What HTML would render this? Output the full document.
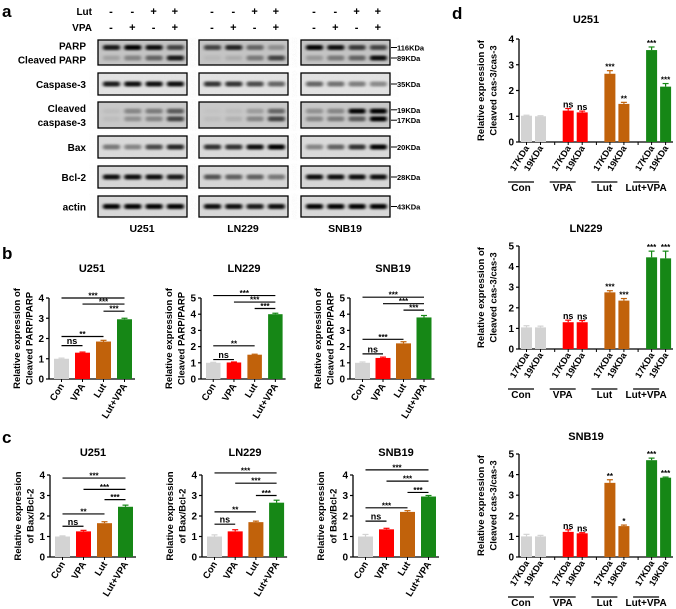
<!DOCTYPE html>
<html><head><meta charset="utf-8"><style>
body{margin:0;background:#fff}
svg{display:block;font-family:"Liberation Sans",Arial,sans-serif;font-weight:bold}
</style></head><body>
<svg id="fig" width="676" height="609" viewBox="0 0 676 609">
<defs>
<filter id="blur" x="-20%" y="-100%" width="140%" height="300%"><feGaussianBlur stdDeviation="1.6 1.1"/></filter>
<filter id="noise"><feTurbulence baseFrequency="0.9" numOctaves="1" seed="3"/><feColorMatrix values="0 0 0 0 0.5 0 0 0 0 0.5 0 0 0 0 0.5 0 0 0 0.12 0"/></filter>
</defs>
</svg>
<script>
const NS='http://www.w3.org/2000/svg';
const svg=document.getElementById('fig');
function mk(tag,attrs,parent,txt){const e=document.createElementNS(NS,tag);for(const k in attrs)e.setAttribute(k,attrs[k]);if(txt!==undefined)e.textContent=txt;(parent||svg).appendChild(e);return e;}

// ---------- Panel a: western blot data ----------
const cellLines=['U251','LN229','SNB19'];
const lutSigns=['-','-','+','+'];
const vpaSigns=['-','+','-','+'];
const parpBand=[[0.8,0.95,0.85,0.6],[0.6,0.75,0.45,0.25],[0.9,0.85,0.65,0.6]];
const cparpBand=[[0.15,0.3,0.45,0.8],[0.05,0.1,0.35,0.6],[0.2,0.35,0.45,0.85]];
const casBand=[[0.8,0.85,0.85,0.85],[0.7,0.7,0.6,0.5],[0.5,0.45,0.4,0.35]];
const c19Band=[[0.05,0.3,0.35,0.5],[0.02,0.05,0.2,0.45],[0.25,0.3,0.9,1]];
const c17Band=[[0.05,0.25,0.3,0.6],[0.05,0.1,0.3,0.6],[0.3,0.35,0.5,1]];
const baxBand=[[0.4,0.35,0.6,0.75],[0.7,0.7,0.85,1],[0.35,0.5,0.7,0.9]];
const bclBand=[[0.85,0.85,0.85,0.8],[0.55,0.5,0.5,0.4],[0.85,0.85,0.85,0.85]];
const actinBand=[[0.9,0.9,0.9,0.9],[0.85,0.85,0.8,0.85],[0.9,0.9,0.9,0.9]];
const blotX=[98,199,301];
const rows=[
 {label:['PARP','Cleaved PARP'],y:40,h:25,bands:[[parpBand,0.3],[cparpBand,0.72]],kda:[['116KDa',0.3],['89KDa',0.72]],bg:'#c4c4c4'},
 {label:['Caspase-3'],y:73,h:22,bands:[[casBand,0.5]],kda:[['35KDa',0.5]],bg:'#e2e2e2'},
 {label:['Cleaved','caspase-3'],y:102,h:26,bands:[[c19Band,0.35],[c17Band,0.65]],kda:[['19KDa',0.3],['17KDa',0.7]],bg:'#c8c8c8'},
 {label:['Bax'],y:136,h:22,bands:[[baxBand,0.5]],kda:[['20KDa',0.5]],bg:'#dadada'},
 {label:['Bcl-2'],y:166,h:22,bands:[[bclBand,0.5]],kda:[['28KDa',0.5]],bg:'#d6d6d6'},
 {label:['actin'],y:196,h:21,bands:[[actinBand,0.5]],kda:[['43KDa',0.5]],bg:'#d8d8d8'}];
mk('text',{x:2,y:17,'font-size':17,},svg,'a');
mk('text',{x:92,y:15,'font-size':10,'text-anchor':'end',},svg,'Lut');
mk('text',{x:92,y:31,'font-size':10,'text-anchor':'end',},svg,'VPA');
blotX.forEach((bx,ci)=>{
  for(let l=0;l<4;l++){
    const lx=bx+13+l*21.3;
    mk('text',{x:lx,y:15,'font-size':11,'text-anchor':'middle',},svg,lutSigns[l]);
    mk('text',{x:lx,y:31,'font-size':11,'text-anchor':'middle',},svg,vpaSigns[l]);
  }
  mk('text',{x:bx+44,y:232,'font-size':10.5,'text-anchor':'middle',},svg,cellLines[ci]);
});
rows.forEach(r=>{
  const ly=r.y+r.h/2;
  if(r.label.length===1) mk('text',{x:86,y:ly+4,'font-size':10,'text-anchor':'end',},svg,r.label[0]);
  else{mk('text',{x:86,y:ly-3,'font-size':10,'text-anchor':'end',},svg,r.label[0]);
       mk('text',{x:86,y:ly+11,'font-size':10,'text-anchor':'end',},svg,r.label[1]);}
  blotX.forEach((bx,ci)=>{
    const g=mk('g',{});
    mk('rect',{x:bx,y:r.y,width:89,height:r.h,fill:r.bg},g);
    mk('rect',{x:bx,y:r.y,width:89,height:r.h,filter:'url(#noise)'},g);
    r.bands.forEach(([arr,fy])=>{
      for(let l=0;l<4;l++){
        const v=arr[ci][l];
        mk('rect',{x:bx+5+l*21.3,y:r.y+r.h*fy-2.5,width:17,height:5,rx:2,fill:'#000','fill-opacity':Math.min(1,v*1.1),filter:'url(#blur)',},g);
      }
    });
    mk('rect',{x:bx,y:r.y,width:89,height:r.h,fill:'none',stroke:'#000','stroke-width':1.3},g);
  });
  r.kda.forEach(([t,fy])=>{
    const yy=r.y+r.h*fy;
    mk('line',{x1:391,x2:397,y1:yy,y2:yy,stroke:'#000','stroke-width':1});
    mk('text',{x:397,y:yy+3,'font-size':7.5,},svg,t);
  });
});

// ---------- Panels b & c: bar charts ----------
const groups=['Con','VPA','Lut','Lut+VPA'];
const colors=['#d3d3d3','#ff0000','#c1620b','#168716'];
const parpU251=[1.0,1.3,1.85,2.95], parpU251Err=[0.03,0.03,0.06,0.05];
const parpLN229=[1.0,1.02,1.5,4.0], parpLN229Err=[0.03,0.03,0.03,0.06];
const parpSNB19=[1.0,1.3,2.2,3.8], parpSNB19Err=[0.05,0.05,0.1,0.12];
const baxU251=[1.0,1.25,1.65,2.45], baxU251Err=[0.03,0.05,0.07,0.08];
const baxLN229=[1.0,1.25,1.7,2.65], baxLN229Err=[0.08,0.08,0.05,0.12];
const baxSNB19=[1.0,1.35,2.2,2.95], baxSNB19Err=[0.1,0.05,0.06,0.05];
const bracketsParpU251=[[0,3,4.0,'***'],[1,3,3.7,'***'],[2,3,3.35,'***'],[0,2,2.1,'**'],[0,1,1.65,'ns']];
const bracketsParpLN229=[[0,3,5.15,'***'],[1,3,4.75,'***'],[2,3,4.35,'***'],[0,2,2.05,'**'],[0,1,1.2,'ns']];
const bracketsParpSNB19=[[0,3,5.05,'***'],[1,3,4.65,'***'],[2,3,4.25,'***'],[0,2,2.45,'***'],[0,1,1.55,'ns']];
const bracketsBaxU251=[[0,3,3.85,'***'],[1,3,3.3,'***'],[2,3,2.8,'***'],[0,2,2.1,'**'],[0,1,1.5,'ns']];
const bracketsBaxLN229=[[0,3,4.1,'***'],[1,3,3.6,'***'],[2,3,3.0,'***'],[0,2,2.2,'**'],[0,1,1.6,'ns']];
const bracketsBaxSNB19=[[0,3,4.25,'***'],[1,3,3.7,'***'],[2,3,3.15,'***'],[0,2,2.4,'***'],[0,1,1.75,'ns']];

function barChart(o){
  const g=mk('g',{});
  const unit=(o.base-o.top)/o.max;
  const yS=v=>o.base-v*unit;
  const xS=i=>o.ax+5+i*o.pitch;
  mk('text',{x:o.ax+43,y:o.titleY,'font-size':11,'text-anchor':'middle',},g,o.title);
  const cy=(o.base+o.top)/2;
  o.ylab.forEach((t,k)=>{
    const x=o.ax-29+k*12.5;
    mk('text',{x:x,y:cy,'font-size':9.5,'text-anchor':'middle',transform:`rotate(-90 ${x} ${cy})`,},g,t);
  });
  mk('line',{x1:o.ax,x2:o.ax,y1:yS(o.max),y2:o.base,stroke:'#000','stroke-width':1.3},g);
  mk('line',{x1:o.ax,x2:xS(3)+o.bw+3,y1:o.base,y2:o.base,stroke:'#000','stroke-width':1.3},g);
  for(let t=0;t<=o.max;t++){
    mk('line',{x1:o.ax-3,x2:o.ax,y1:yS(t),y2:yS(t),stroke:'#000','stroke-width':1.2},g);
    mk('text',{x:o.ax-5,y:yS(t)+3.5,'font-size':10,'text-anchor':'end',},g,String(t));
  }
  o.vals.forEach((v,i)=>{
    const x=xS(i);
    const r=mk('rect',{x:x,y:yS(v),width:o.bw,height:o.base-yS(v),fill:colors[i]},g);
    
    
    const cx=x+o.bw/2, ye=yS(v+o.errs[i]);
    mk('line',{x1:cx,x2:cx,y1:yS(v),y2:ye,stroke:colors[i],'stroke-width':1.2},g);
    mk('line',{x1:cx-3,x2:cx+3,y1:ye,y2:ye,stroke:colors[i],'stroke-width':1.2},g);
    mk('line',{x1:cx,x2:cx,y1:o.base,y2:o.base+3,stroke:'#000','stroke-width':1},g);
    const lx=cx+3, ly=o.base+7;
    mk('text',{x:lx,y:ly,'font-size':9.5,'text-anchor':'end',transform:`rotate(-58 ${lx} ${ly})`,},g,groups[i]);
  });
  o.br.forEach(([a,b,v,lab])=>{
    const y=yS(v);
    const x1=xS(a)+o.bw/2, x2=xS(b)+o.bw/2;
    mk('line',{x1:x1,x2:x2,y1:y,y2:y,stroke:'#000','stroke-width':1.2,},g);
    mk('text',{x:(x1+x2)/2,y:lab==='ns'?y-1.5:y+0.5,'font-size':lab==='ns'?9:8,'text-anchor':'middle',},g,lab);
  });
}
mk('text',{x:2,y:259,'font-size':17,},svg,'b');
mk('text',{x:2,y:443,'font-size':17,},svg,'c');
const ylb=['Relative expression of','Cleaved PARP/PARP'], ylc=['Relative expression','of Bax/Bcl-2'];
barChart({name:'chart-b-u251',title:'U251',titleY:272,ax:49,base:379,top:298,max:4,pitch:21,bw:15,vals:parpU251,errs:parpU251Err,br:bracketsParpU251,ylab:ylb});
barChart({name:'chart-b-ln229',title:'LN229',titleY:272,ax:201,base:379,top:298,max:5,pitch:20.7,bw:14.5,vals:parpLN229,errs:parpLN229Err,br:bracketsParpLN229,ylab:ylb});
barChart({name:'chart-b-snb19',title:'SNB19',titleY:272,ax:350,base:379,top:298,max:5,pitch:20.5,bw:15,vals:parpSNB19,errs:parpSNB19Err,br:bracketsParpSNB19,ylab:ylb});
barChart({name:'chart-c-u251',title:'U251',titleY:456,ax:50,base:557,top:475,max:4,pitch:21,bw:15,vals:baxU251,errs:baxU251Err,br:bracketsBaxU251,ylab:ylc});
barChart({name:'chart-c-ln229',title:'LN229',titleY:456,ax:202,base:557,top:475,max:4,pitch:20.7,bw:15,vals:baxLN229,errs:baxLN229Err,br:bracketsBaxLN229,ylab:ylc});
barChart({name:'chart-c-snb19',title:'SNB19',titleY:456,ax:353,base:557,top:475,max:4,pitch:21,bw:15,vals:baxSNB19,errs:baxSNB19Err,br:bracketsBaxSNB19,ylab:ylc});

// ---------- Panel d ----------
const bandLabels=['17KDa','19KDa'];
const casU251=[1.02,1.0,1.22,1.15,2.65,1.48,3.57,2.15], casU251Err=[0.02,0.02,0.08,0.05,0.12,0.06,0.12,0.12];
const casLN229=[1.05,1.05,1.3,1.3,2.75,2.35,4.45,4.4], casLN229Err=[0.08,0.06,0.1,0.08,0.08,0.1,0.3,0.35];
const casSNB19=[1.0,1.0,1.22,1.15,3.6,1.5,4.7,3.85], casSNB19Err=[0.1,0.05,0.1,0.03,0.15,0.05,0.1,0.03];
const starsU251=['','','ns','ns','***','**','***','***'];
const starsLN229=['','','ns','ns','***','***','***','***'];
const starsSNB19=['','','ns','ns','**','*','***','***'];
function dChart(o){
  const g=mk('g',{});
  const unit=(o.base-o.top)/o.max;
  const yS=v=>o.base-v*unit;
  const xS=i=>o.ax+2+Math.floor(i/2)*41.7+(i%2)*14;
  const bw=11;
  mk('text',{x:586,y:o.titleY,'font-size':11,'text-anchor':'middle',},g,o.title);
  const cy=(o.base+o.top)/2;
  ['Relative expression of','Cleaved cas-3/cas-3'].forEach((t,k)=>{
    const x=o.ax-35+k*12.5;
    mk('text',{x:x,y:cy,'font-size':9.5,'text-anchor':'middle',transform:`rotate(-90 ${x} ${cy})`,},g,t);
  });
  mk('line',{x1:o.ax,x2:o.ax,y1:yS(o.max),y2:o.base,stroke:'#000','stroke-width':1.3},g);
  mk('line',{x1:o.ax,x2:673,y1:o.base,y2:o.base,stroke:'#000','stroke-width':1.3},g);
  for(let t=0;t<=o.max;t++){
    mk('line',{x1:o.ax-3,x2:o.ax,y1:yS(t),y2:yS(t),stroke:'#000','stroke-width':1.2},g);
    mk('text',{x:o.ax-5,y:yS(t)+3.5,'font-size':10,'text-anchor':'end',},g,String(t));
  }
  o.vals.forEach((v,i)=>{
    const x=xS(i), c=colors[Math.floor(i/2)];
    const r=mk('rect',{x:x,y:yS(v),width:bw,height:o.base-yS(v),fill:c},g);
    
    
    const cx=x+bw/2, ye=yS(v+o.errs[i]);
    mk('line',{x1:cx,x2:cx,y1:yS(v),y2:ye,stroke:c,'stroke-width':1.2},g);
    mk('line',{x1:cx-3,x2:cx+3,y1:ye,y2:ye,stroke:c,'stroke-width':1.2},g);
    mk('line',{x1:cx,x2:cx,y1:o.base,y2:o.base+3,stroke:'#000','stroke-width':1},g);
    if(o.stars[i]) mk('text',{x:cx,y:ye-1,'font-size':o.stars[i]==='ns'?9:8,'text-anchor':'middle',},g,o.stars[i]);
    const lx=cx+3, ly=o.base+6;
    mk('text',{x:lx,y:ly,'font-size':9,'text-anchor':'end',transform:`rotate(-58 ${lx} ${ly})`,},g,bandLabels[i%2]);
  });
  for(let k=1;k<4;k++){const sx=o.ax+2+k*41.7-8;mk('line',{x1:sx,x2:sx,y1:o.base,y2:o.base+3,stroke:'#000','stroke-width':1},g);}
  groups.forEach((gr,k)=>{
    const x1=xS(2*k)-13,x2=xS(2*k+1)-1;
    mk('line',{x1:x1,x2:x2,y1:o.base+40,y2:o.base+40,stroke:'#000','stroke-width':1.3},g);
    mk('text',{x:(x1+x2)/2,y:o.base+49,'font-size':10,'text-anchor':'middle',},g,gr);
  });
}
mk('text',{x:452,y:19,'font-size':17,},svg,'d');
dChart({name:'chart-d-u251',title:'U251',titleY:23,ax:519,base:142,top:39,max:4,vals:casU251,errs:casU251Err,stars:starsU251});
dChart({name:'chart-d-ln229',title:'LN229',titleY:232,ax:519,base:349,top:246,max:5,vals:casLN229,errs:casLN229Err,stars:starsLN229});
dChart({name:'chart-d-snb19',title:'SNB19',titleY:440,ax:519,base:557,top:454,max:5,vals:casSNB19,errs:casSNB19Err,stars:starsSNB19});
</script>
</body></html>
